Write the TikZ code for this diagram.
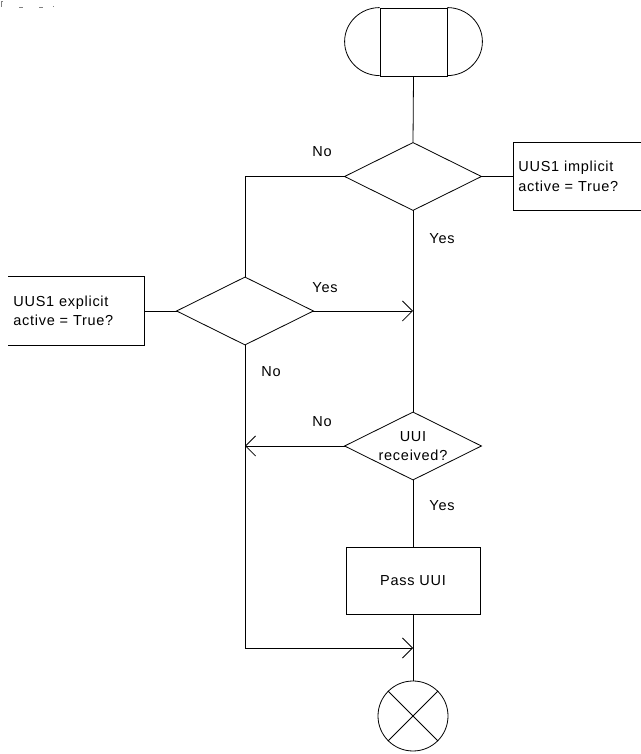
\documentclass[tikz,border=0pt]{standalone}
\usepackage{fontspec}
\setmainfont[LetterSpace=5]{Liberation Sans}
\usetikzlibrary{arrows.meta}
\begin{document}
\begin{tikzpicture}[x=1pt,y=1pt, line width=0.8pt,
  every node/.style={font=\fontsize{14.5}{19.5}\selectfont, inner sep=0pt},
  arr/.style={-{Straight Barb[length=10pt,width=20pt,line width=0.8pt]}},
  dec/.style={minimum width=136pt, minimum height=67pt, align=center},
  lbl/.style={}]
\useasboundingbox (0,0) rectangle (640,754);
% top-left marks
\draw[line width=0.6pt, gray] (3,753) -- (1,753) -- (1,747);
\draw[line width=0.6pt, gray] (19,746.7) -- (23,746.7) (39,746.7) -- (43,746.7) (53,748) -- (54,748);
% start terminal
\node[draw, minimum width=67pt, minimum height=68pt] (s) at (413.5,712) {};
\draw (s.north west) arc[start angle=90, end angle=270, x radius=35, y radius=34];
\draw (s.north east) arc[start angle=90, end angle=-90, x radius=35, y radius=34];
% decisions
\node[dec] (d1) at (413,577.5) {};
\node[dec] (d2) at (245,443) {};
\node[dec] (d3) at (413,308) {UUI\\received?};
\foreach \d in {d1,d2,d3}
  \draw (\d.north) -- (\d.east) -- (\d.south) -- (\d.west) -- cycle;
% comment boxes (open)
\node[anchor=west, minimum height=67pt, text width=117pt, inner xsep=5pt, align=left] (br) at (513,577.5) {UUS1 implicit\\active = True?};
\draw (br.north east) -- (br.north west) -- (br.south west) -- (br.south east);
\node[anchor=west, minimum height=68pt, text width=126pt, inner xsep=5pt, align=left] (bl) at (8,443) {UUS1 explicit\\active = True?};
\draw (bl.north west) -- (bl.north east) -- (bl.south east) -- (bl.south west);
% process
\node[draw, minimum width=134pt, minimum height=67pt] (p) at (413,173.5) {Pass UUI};
% end
\node[draw, circle, minimum size=70pt] (e) at (413,38) {};
\draw (e.north west) -- (e.south east) (e.north east) -- (e.south west);
% junctions
\coordinate (j1) at (413,443);
\coordinate (j2) at (245,308);
\coordinate (j3) at (413,106);
% connectors
\draw (s.south) -- (d1.north);
\draw (d1.east) -- (br.west);
\draw (d1.west) -| (d2.north);
\draw (d1.south) -- (d3.north);
\draw (bl.east) -- (d2.west);
\draw[arr] (d2.east) -- (j1);
\draw[arr] (d3.west) -- (j2);
\draw[arr] (d2.south) |- (j3);
\draw (d3.south) -- (p.north);
\draw (p.south) -- (e.north);
% labels
\node[lbl] at (322,602) {No};
\node[lbl] at (442,515) {Yes};
\node[lbl] at (325,466) {Yes};
\node[lbl] at (271,382) {No};
\node[lbl] at (322,332) {No};
\node[lbl] at (442,248) {Yes};
\end{tikzpicture}
\end{document}
